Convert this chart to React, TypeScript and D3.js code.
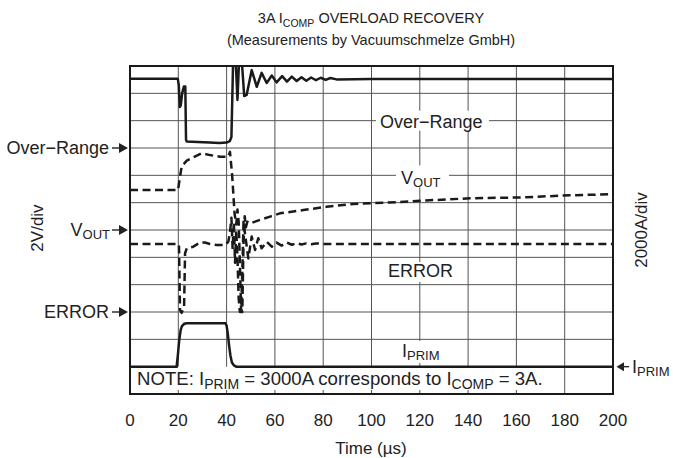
import React from "react";
import * as d3 from "d3";

// time in µs, level in scope divisions (0 = bottom of note row, 12 = top)
const xTicks = [0, 20, 40, 60, 80, 100, 120, 140, 160, 180, 200];
const hGridDivs = [2, 3, 4, 5, 6, 7, 8, 9, 10, 11];

const overRange: [number, number][] = [
  [0, 11.53], [19.8, 11.53], [20.2, 11.3], [20.6, 10.5], [21.0, 10.55], [21.6, 11.0], [22.3, 11.25],
  [22.9, 11.25], [23.2, 9.3], [23.5, 9.24], [28, 9.22], [33, 9.2], [37, 9.18], [40, 9.2], [41.3, 9.25],
  [42.0, 9.4], [42.8, 12.6], [43.6, 12.5], [44.5, 10.76], [45.3, 12.5], [46.2, 12.3], [47.3, 10.9],
  [48.3, 10.94], [50.4, 11.85], [52.5, 11.24], [54.5, 11.75], [56.6, 11.38], [58.7, 11.65], [60.7, 11.4],
  [63, 11.63], [65, 11.43], [67, 11.61], [69, 11.45], [71, 11.59], [73, 11.46], [75, 11.58], [77, 11.48],
  [79, 11.57], [81, 11.49], [83, 11.56], [85.5, 11.51], [100, 11.52], [200, 11.52]
];

const vout: [number, number][] = [
  [0, 7.46], [19.9, 7.46], [20.7, 7.95], [21.4, 8.32], [23.5, 8.54], [26.2, 8.66], [29.7, 8.81],
  [33.1, 8.74], [37.3, 8.68], [40.7, 8.68], [41.4, 8.86], [42.3, 8.0], [43.3, 6.6], [44.0, 6.2],
  [44.5, 6.75], [45.0, 6.3], [45.5, 4.8], [46.0, 3.1], [46.5, 3.0], [47.0, 5.5], [47.5, 6.5],
  [48.0, 6.1], [48.6, 6.3], [49.7, 6.24], [53.8, 6.37], [58, 6.49], [62.1, 6.61], [71.8, 6.73],
  [81.4, 6.85], [92.5, 6.95], [99.4, 6.98], [111.8, 7.02], [120.1, 7.07], [140.8, 7.16],
  [161.5, 7.19], [182.2, 7.27], [200, 7.31]
];

const error: [number, number][] = [
  [0, 5.49], [20.0, 5.49], [20.3, 5.39], [20.7, 3.07], [21.4, 2.97], [22.4, 3.2], [22.8, 5.15],
  [23.5, 5.33], [26.2, 5.39], [29, 5.54], [31, 5.54], [33.1, 5.49], [35.9, 5.45], [39.3, 5.45],
  [40.7, 5.57], [41.4, 5.9], [42.0, 6.45], [42.5, 5.3], [43.0, 6.3], [43.5, 4.8], [44.0, 6.0],
  [44.5, 5.0], [45.0, 3.5], [45.5, 3.0], [46.0, 3.0], [46.5, 4.5], [47.0, 6.3], [47.6, 5.88],
  [49.0, 4.96], [50.4, 5.76], [51.8, 5.27], [53.1, 5.7], [54.5, 5.33], [56.6, 5.57], [58.7, 5.39],
  [60.7, 5.54], [62.8, 5.43], [64.9, 5.54], [67, 5.46], [69, 5.52], [71, 5.47], [73, 5.51],
  [75, 5.48], [77, 5.51], [80, 5.49], [200, 5.49]
];

const iprim: [number, number][] = [
  [0, 1.0], [19.3, 1.0], [19.8, 1.4], [20.4, 1.98], [21.0, 2.35], [21.5, 2.48], [22.5, 2.57],
  [23.5, 2.59], [39.5, 2.59], [40.0, 2.5], [40.5, 2.2], [41.0, 1.8], [41.6, 1.4], [42.2, 1.15],
  [43.0, 1.05], [44.0, 1.0], [200, 1.0]
];

const leftMarkers = [
  { label: "Over−Range", sub: "", level: 9 },
  { label: "V", sub: "OUT", level: 6 },
  { label: "ERROR", sub: "", level: 3 }
];

const W = 673;
const H = 458;
const FONT = "'Liberation Sans', Arial, sans-serif";
const FS = 18;
const SUB = 13;
const TFS = 14.5;
const TSUB = 10.5;
const AXFS = 17;
const NFS = 18.6;
const NSUB = 14;

export default function App() {
  const x = d3.scaleLinear().domain([0, 200]).range([130, 613]);
  const y = d3.scaleLinear().domain([0, 12]).range([394, 66]);
  const line = d3.line<[number, number]>().x((d) => x(d[0])).y((d) => y(d[1]));
  const x0 = x(0), x1 = x(200), yTop = y(12), yBot = y(0);

  const arrowRight = (tipX: number, yy: number) => (
    <g>
      <line x1={tipX - 16} x2={tipX - 6} y1={yy} y2={yy} stroke="#222" strokeWidth={1.4} />
      <path d={`M${tipX},${yy} L${tipX - 9},${yy - 5} L${tipX - 9},${yy + 5} Z`} fill="#222" />
    </g>
  );

  return (
    <svg width={W} height={H} style={{ position: "absolute", left: 0, top: 0, background: "#fff" }}
      fontFamily={FONT}>
      <defs>
        <clipPath id="plot">
          <rect x={x0} y={yTop} width={x1 - x0} height={y(1) - yTop} />
        </clipPath>
      </defs>
      <rect x={0} y={0} width={W} height={H} fill="#fff" />
      {/* title */}
      <text x={371} y={23} textAnchor="middle" fontSize={TFS} fill="#222">
        3A I<tspan fontSize={TSUB} dy={4}>COMP</tspan><tspan dy={-4}> OVERLOAD RECOVERY</tspan>
      </text>
      <text x={371} y={45} textAnchor="middle" fontSize={TFS} fill="#222">
        (Measurements by Vacuumschmelze GmbH)
      </text>

      {/* grid */}
      {hGridDivs.map((d) => (
        <line key={"h" + d} x1={x0} x2={x1} y1={y(d)} y2={y(d)} stroke="#555" strokeWidth={1} />
      ))}
      {xTicks.slice(1, -1).map((t) => (
        <line key={"v" + t} x1={x(t)} x2={x(t)} y1={yTop} y2={t === 180 ? yBot : y(1)} stroke="#555" strokeWidth={1} />
      ))}
      {xTicks.slice(1, -2).map((t) => (
        <line key={"bt" + t} x1={x(t)} x2={x(t)} y1={yBot} y2={yBot - 4} stroke="#555" strokeWidth={1} />
      ))}

      {/* in-plot labels with white backgrounds */}
      <rect x={376} y={y(10) - 10} width={113} height={20} fill="#fff" />
      <text x={380} y={y(10) + 7} fontSize={FS} fill="#222">Over−Range</text>
      <rect x={396} y={y(8) - 10} width={53} height={22} fill="#fff" />
      <text x={401} y={y(8) + 9} fontSize={FS} fill="#222">V<tspan fontSize={SUB} dy={3}>OUT</tspan></text>
      <rect x={384} y={262} width={72} height={20} fill="#fff" />
      <text x={388} y={277} fontSize={FS} fill="#222">ERROR</text>
      <rect x={399} y={341} width={46} height={22} fill="#fff" />
      <text x={402} y={357} fontSize={FS} fill="#222">I<tspan fontSize={SUB} dy={3}>PRIM</tspan></text>

      {/* traces */}
      <g clipPath="url(#plot)" fill="none" strokeLinejoin="round">
        <path d={line(vout) ?? ""} stroke="#1a1a1a" strokeWidth={2.5} strokeDasharray="8,4.5" />
        <path d={line(error) ?? ""} stroke="#1a1a1a" strokeWidth={2.5} strokeDasharray="8,4.5" />
        <path d={line(overRange) ?? ""} stroke="#1a1a1a" strokeWidth={2.5} />
      </g>
      <path d={line(iprim) ?? ""} fill="none" stroke="#1a1a1a" strokeWidth={2.5} />

      {/* note */}
      <text x={137} y={385} fontSize={NFS} fill="#222">
        NOTE: I<tspan fontSize={NSUB} dy={4}>PRIM</tspan><tspan dy={-4}> = 3000A corresponds to I</tspan>
        <tspan fontSize={NSUB} dy={4}>COMP</tspan><tspan dy={-4}> = 3A.</tspan>
      </text>

      {/* frame */}
      <rect x={x0} y={yTop} width={x1 - x0} height={yBot - yTop} fill="none" stroke="#1a1a1a" strokeWidth={2} />

      {/* x tick labels */}
      {xTicks.map((t) => (
        <text key={"xl" + t} x={x(t)} y={426} textAnchor="middle" fontSize={AXFS} fill="#222">{t}</text>
      ))}
      <text x={371} y={454} textAnchor="middle" fontSize={AXFS} fill="#222">Time (µs)</text>

      {/* left markers */}
      {leftMarkers.map((m) => (
        <g key={m.label}>
          <text x={m.sub ? 110 : 109} y={y(m.level) + 6} textAnchor="end" fontSize={FS} fill="#222">
            {m.label}{m.sub ? <tspan fontSize={SUB} dy={3}>{m.sub}</tspan> : null}
          </text>
          {arrowRight(128, y(m.level))}
        </g>
      ))}
      <text transform={`translate(43,${y(6) - 2}) rotate(-90)`} textAnchor="middle" fontSize={AXFS} fill="#222">2V/div</text>
      <text transform={`translate(647,${y(6)}) rotate(-90)`} textAnchor="middle" fontSize={AXFS} fill="#222">2000A/div</text>

      {/* right marker */}
      <g>
        <line x1={622} x2={629} y1={y(1)} y2={y(1)} stroke="#222" strokeWidth={1.4} />
        <path d={`M${616.5},${y(1)} L${624},${y(1) - 4.5} L${624},${y(1) + 4.5} Z`} fill="#222" />
        <text x={632} y={y(1) + 6} fontSize={FS} fill="#222">I<tspan fontSize={SUB} dy={3}>PRIM</tspan></text>
      </g>
    </svg>
  );
}
